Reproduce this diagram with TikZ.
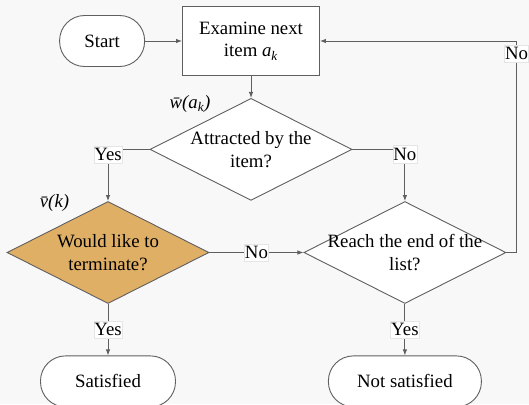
\documentclass[tikz,border=0pt]{standalone}
\usepackage{fontspec}
\setmainfont{Liberation Serif}
\usetikzlibrary{arrows.meta,positioning,shapes.geometric}

\definecolor{bgGray}{RGB}{248,248,248}
\definecolor{lineGray}{RGB}{95,95,95}
\definecolor{quitOrange}{RGB}{224,175,102}

\begin{document}
\begin{tikzpicture}[
  x=1pt, y=-1pt,
  font=\fontsize{18.8}{22.6}\selectfont,
  >={Latex[length=6pt,width=4.5pt]},
  term/.style={draw=lineGray, line width=0.9pt, fill=white, rounded corners=25pt, minimum height=51pt, inner sep=0pt},
  proc/.style={draw=lineGray, line width=0.9pt, fill=white, align=center, minimum width=137pt, minimum height=69pt, inner sep=0pt},
  decision/.style={draw=lineGray, line width=0.9pt, fill=white, diamond, aspect=2, minimum width=202pt, minimum height=102pt, inner sep=0pt},
  lbl/.style={fill=white, draw=gray!20, line width=0.5pt, inner xsep=0.5pt, inner ysep=2.5pt},
  arrow/.style={->, draw=lineGray, line width=0.9pt}
]
\useasboundingbox (0,0) rectangle (529,404);
\fill[bgGray] (0,0) rectangle (529,404);

\node[proc] (exam) at (251,41) {Examine next\\item \textit{a}\textsubscript{\textit{k}}};
\node[term, minimum width=85pt, left=37pt of exam] (start) {Start};
\node[decision, below=22pt of exam, label={[align=center]center:Attracted by the\\item?}] (attract) {};
\node[decision, fill=quitOrange, label={[align=center]center:Would like to\\terminate?}] (quit) at (108,252.5) {};
\node[decision, right=94pt of quit, label={[align=center]center:Reach the end of the\\list?}] (endlist) {};
\node[term, minimum width=135pt, below=51.5pt of quit] (satisfied) {Satisfied};
\node[term, minimum width=153pt, below=51.5pt of endlist] (notsat) {Not satisfied};

% weights beside the two decisions
\node (wlab) at (190,104) {\textit{\=w(a\textsubscript{k})}};
\node (vlab) at (54.5,203) {\textit{\=v(k)}};

\coordinate (turn) at (516.5,41);

\draw[arrow] (start) -- (exam);
\draw[arrow] (exam) -- (attract);
\draw[arrow] (attract.west) -| node[lbl, pos=0.5, yshift=-5.5pt] {Yes} (quit.north);
\draw[arrow] (attract.east) -| node[lbl, pos=0.5, yshift=-5pt] {No} (endlist.north);
\draw[arrow] (quit.east) -- node[lbl] {No} (endlist.west);
\draw[arrow] (quit.south) -- node[lbl] {Yes} (satisfied.north);
\draw[arrow] (endlist.south) -- node[lbl] {Yes} (notsat.north);
\draw[arrow] (endlist.east) -| node[lbl, pos=0.97] {No} (turn) -- (exam.east);
\end{tikzpicture}
\end{document}
